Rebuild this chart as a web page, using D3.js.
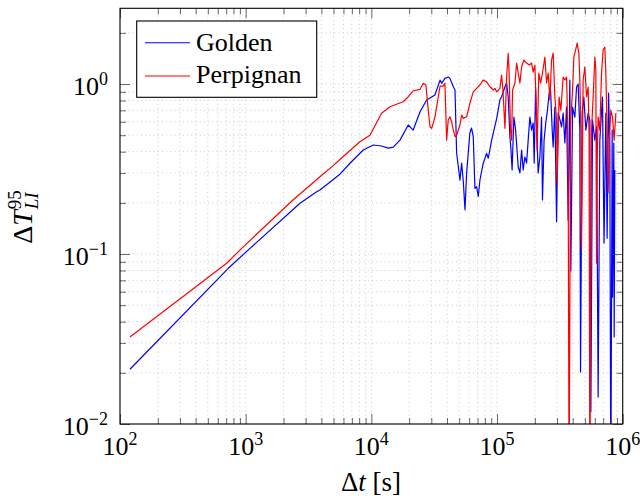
<!DOCTYPE html>
<html>
<head>
<meta charset="utf-8">
<script src="https://cdn.jsdelivr.net/npm/d3@7"></script>
<style>
  body { margin: 0; background: #fff; }
  text { font-family: "Liberation Serif", "Times New Roman", serif; fill: #000; }
</style>
</head>
<body>
<svg id="chart" width="640" height="499"></svg>
<script>
// delta t [s] and Delta T^95_LI
const goldenT = [120, 727, 1082, 2705, 3673, 3900, 5623, 6758, 8620, 10350, 12080, 13620, 14930, 16900,
  19660, 21530, 24400, 27540, 32060, 35200, 36230, 38480, 40900, 42200, 44900, 46300, 47700, 50700,
  52300, 53900, 55600, 57300, 60800, 62700, 64700, 66700, 68800, 70900, 73100, 77600, 82600, 85200,
  90600, 99400,
  105400, 108700, 115600, 119200, 122700, 126600, 128700, 131800, 136200, 140600,
  147400, 152100, 156900, 161500, 166600, 171900, 177000, 182600, 188400, 194000,
  197600, 202700, 208300, 212600, 219300, 226200, 230000, 236800, 244300, 252000,
  260000, 266700, 274700, 279700, 288500, 297700, 306500, 316200, 326200, 335900,
  346700, 357500, 368100, 379700, 386700, 399000, 416200, 429300, 442100, 456000,
  461900, 475700, 490700, 509100, 531200, 547800, 558100, 575400, 600200, 619200,
  637600, 657700, 690000, 710500, 734100, 751800, 772000, 789800, 804400, 824600,
  829900, 849600, 855300, 865700];
const goldenV = [0.021, 0.0824, 0.108, 0.199, 0.2325, 0.238, 0.295, 0.342, 0.409, 0.438, 0.432, 0.42, 0.425, 0.468,
  0.574, 0.536, 0.687, 0.805, 0.862, 1.055, 1.01, 1.08, 1.10, 1.08, 0.964, 0.922, 0.393, 0.272,
  0.343, 0.267, 0.182, 0.30, 0.515, 0.551, 0.49, 0.243, 0.249, 0.218, 0.272, 0.341, 0.391, 0.366,
  0.468, 0.628,
  0.805, 0.842, 0.964, 1.014, 0.839, 0.488, 0.426, 0.312, 0.639, 0.536,
  0.325, 0.300, 0.409, 0.312, 0.372, 0.343, 0.468, 0.639, 0.536, 0.590,
  0.343, 0.95, 0.468, 0.300, 0.372, 0.639, 0.208, 0.468, 0.590, 0.703,
  0.885, 0.922, 0.536, 0.426, 0.732, 0.155, 0.675, 0.62, 0.559, 0.675,
  0.450, 0.732, 0.158, 1.056, 0.0794, 0.732, 0.639, 0.960, 1.0, 0.536,
  0.0202, 0.675, 0.839, 0.536, 0.675, 0.614, 0.0118, 0.614, 0.468, 0.559,
  0.0144, 0.468, 0.839, 0.116, 0.675, 0.124, 0.885, 0.426, 0.004, 0.536,
  0.0558, 0.450, 0.0325, 0.312];

const perpT = [120, 706, 929, 2377, 3900, 4943, 5623, 8110, 9750, 12050, 14050, 17950, 19660, 21530,
  24400, 25880, 27170, 28350, 29300, 30200, 32100, 34100, 35200, 37300, 38500, 39700, 40900, 42200,
  43500, 44900, 46300, 47700, 50700, 52300, 53900, 57300, 60800, 64700, 73100, 77600, 82600, 87800,
  93400, 96300, 99400,
  105400, 108700, 111400, 115600, 119200, 122700, 124800, 128000, 130600, 133000,
  138800, 143200, 147400, 152100, 156900, 163600, 171900, 180300, 188400, 194000,
  200100, 203800, 208300, 214900, 222200, 230000, 240300, 247900, 255300, 263400,
  271600, 279700, 288500, 297700, 300900, 311700, 322000, 335900, 346700, 357500,
  360900, 368100, 374600, 384600, 399000, 408700, 421700, 434200, 447800, 456000,
  464500, 470400, 484400, 499800, 515500, 531200, 540000, 547800, 565100, 581800,
  600200, 611400, 619200, 626100, 637600, 657700, 678600, 698700, 720800, 734100,
  751800, 766100, 789800, 804400, 829900, 855300, 882300];
const perpV = [0.0325, 0.0882, 0.108, 0.208, 0.285, 0.33, 0.36, 0.458, 0.50, 0.673, 0.735, 0.787, 0.842, 0.913,
  0.931, 1.01, 0.987, 0.703, 0.561, 0.549, 0.642, 0.842, 0.973, 0.973, 1.01, 0.468, 0.614, 0.642,
  0.60, 0.536, 0.49, 0.50, 0.574, 0.657, 0.628, 0.642, 0.77, 0.90, 0.987, 1.055, 1.03, 0.964,
  0.922, 0.943, 0.90,
  0.943, 1.13, 0.922, 0.549, 1.10, 1.515, 1.161, 0.536, 0.468, 0.922,
  1.014, 1.329, 1.161, 1.014, 1.259, 1.384, 1.329, 1.294, 1.329, 1.176,
  1.294, 0.839, 0.41, 1.161, 1.014, 1.161, 1.442, 1.014, 1.161, 0.805,
  1.384, 1.522, 0.839, 0.614, 0.262, 0.839, 0.703, 1.099, 1.056, 1.099,
  0.839, 0.3, 0.004, 0.59, 0.922, 1.442, 1.585, 1.743, 1.522, 1.056,
  0.536, 0.107, 1.056, 1.259, 0.839, 0.960, 0.488, 0.004, 0.536, 0.839,
  1.442, 1.209, 0.0885, 0.343, 0.639, 0.536, 1.161, 1.585, 1.651, 1.161,
  0.536, 0.229, 0.536, 0.703, 0.639, 0.468, 0.675];

const seriesNames = ["Golden", "Perpignan"];
const seriesColors = ["rgb(0,0,255)", "rgb(255,0,0)"];
const xMajor = [1e2, 1e3, 1e4, 1e5, 1e6];
const xExp = ["2", "3", "4", "5", "6"];
const yMajor = [1e-2, 1e-1, 1e0];
const yExp = ["\u22122", "\u22121", "0"];

const svg = d3.select("#chart");
const pLeft = 120, pRight = 622.7, pTop = 8.3, pBottom = 424;

const x = d3.scaleLog().domain([1e2, 1e6]).range([pLeft, pRight]);
const y = d3.scaleLog().domain([1e-2, 2.79]).range([pBottom, pTop]);

const xMinor = [];
for (let e = 2; e < 6; e++) for (let m = 2; m < 10; m++) xMinor.push(m * 10 ** e);
const yMinor = [];
for (let e = -2; e < 1; e++) for (let m = 2; m < 10; m++) {
  const v = m * 10 ** e;
  if (v <= 2.79) yMinor.push(v);
}

// grid (dotted, both)
const grid = svg.append("g").attr("stroke", "#c4c4c4").attr("stroke-width", 0.9)
  .attr("stroke-dasharray", "1 3.2");
grid.selectAll("line.gx").data(xMajor.concat(xMinor)).enter().append("line")
  .attr("x1", d => x(d)).attr("x2", d => x(d)).attr("y1", pBottom).attr("y2", pTop);
grid.selectAll("line.gy").data(yMajor.concat(yMinor)).enter().append("line")
  .attr("y1", d => y(d)).attr("y2", d => y(d)).attr("x1", pLeft).attr("x2", pRight);

// series
svg.append("clipPath").attr("id", "clip").append("rect")
  .attr("x", pLeft).attr("y", pTop).attr("width", pRight - pLeft).attr("height", pBottom - pTop);
const line = d3.line().x(d => x(d[0])).y(d => y(d[1]));
const plotData = [d3.zip(goldenT, goldenV), d3.zip(perpT, perpV)];
plotData.forEach((pts, i) => {
  svg.append("path").datum(pts)
    .attr("clip-path", "url(#clip)")
    .attr("fill", "none")
    .attr("stroke", seriesColors[i])
    .attr("stroke-width", 1.2)
    .attr("stroke-linejoin", "round")
    .attr("d", line);
});

// tick marks on all four sides, pointing inward
function ticks(axis, vals, size, tr) {
  const g = svg.append("g").attr("transform", tr)
    .call(axis.tickValues(vals).tickSize(size).tickFormat(""));
  g.select(".domain").remove();
  g.selectAll(".tick line").attr("stroke", "#444").attr("stroke-width", 0.8);
}
ticks(d3.axisBottom(x), xMajor, -10, `translate(0,${pBottom})`);
ticks(d3.axisBottom(x), xMinor, -6, `translate(0,${pBottom})`);
ticks(d3.axisTop(x), xMajor, -10, `translate(0,${pTop})`);
ticks(d3.axisTop(x), xMinor, -6, `translate(0,${pTop})`);
ticks(d3.axisLeft(y), yMajor, -10, `translate(${pLeft},0)`);
ticks(d3.axisLeft(y), yMinor, -6, `translate(${pLeft},0)`);
ticks(d3.axisRight(y), yMajor, -10, `translate(${pRight},0)`);
ticks(d3.axisRight(y), yMinor, -6, `translate(${pRight},0)`);

svg.append("rect").attr("x", pLeft).attr("y", pTop)
  .attr("width", pRight - pLeft).attr("height", pBottom - pTop)
  .attr("fill", "none").attr("stroke", "#000").attr("stroke-width", 1.1);

// tick labels 10^k
xMajor.forEach((v, i) => {
  const t = svg.append("text").attr("x", x(v)).attr("y", 455)
    .attr("text-anchor", "middle").attr("font-size", 26);
  t.append("tspan").text("10");
  t.append("tspan").attr("font-size", 18).attr("dy", -10).text(xExp[i]);
});
yMajor.forEach((v, i) => {
  const t = svg.append("text").attr("x", 108).attr("y", y(v) + 11)
    .attr("text-anchor", "end").attr("font-size", 26);
  t.append("tspan").text("10");
  t.append("tspan").attr("font-size", 18).attr("dy", -10).text(yExp[i]);
});

// axis labels
const xl = svg.append("text").attr("x", 371).attr("y", 491)
  .attr("text-anchor", "middle").attr("font-size", 27);
xl.append("tspan").text("\u0394");
xl.append("tspan").attr("font-style", "italic").text("t");
xl.append("tspan").text(" [s]");

const yl = svg.append("text").attr("transform", "translate(32,217) rotate(-90)")
  .attr("text-anchor", "middle").attr("font-size", 28);
yl.append("tspan").text("\u0394");
yl.append("tspan").attr("font-style", "italic").text("T");
yl.append("tspan").attr("font-size", 19).attr("dx", 1).attr("dy", -11).text("95");
yl.append("tspan").attr("font-size", 19).attr("font-style", "italic").attr("dx", -19).attr("dy", 17).text("LI");

// legend
const lg = svg.append("g");
lg.append("rect").attr("x", 136.7).attr("y", 21).attr("width", 180).attr("height", 76.3)
  .attr("fill", "#fff").attr("stroke", "#000").attr("stroke-width", 1.1);
seriesNames.forEach((name, i) => {
  const ly = [42.7, 76][i];
  lg.append("line").attr("x1", 145).attr("x2", 190).attr("y1", ly).attr("y2", ly)
    .attr("stroke", seriesColors[i]).attr("stroke-width", 1.1);
  lg.append("text").attr("x", 196).attr("y", [50.5, 82.5][i]).attr("font-size", 26).text(name);
});
</script>
</body>
</html>
